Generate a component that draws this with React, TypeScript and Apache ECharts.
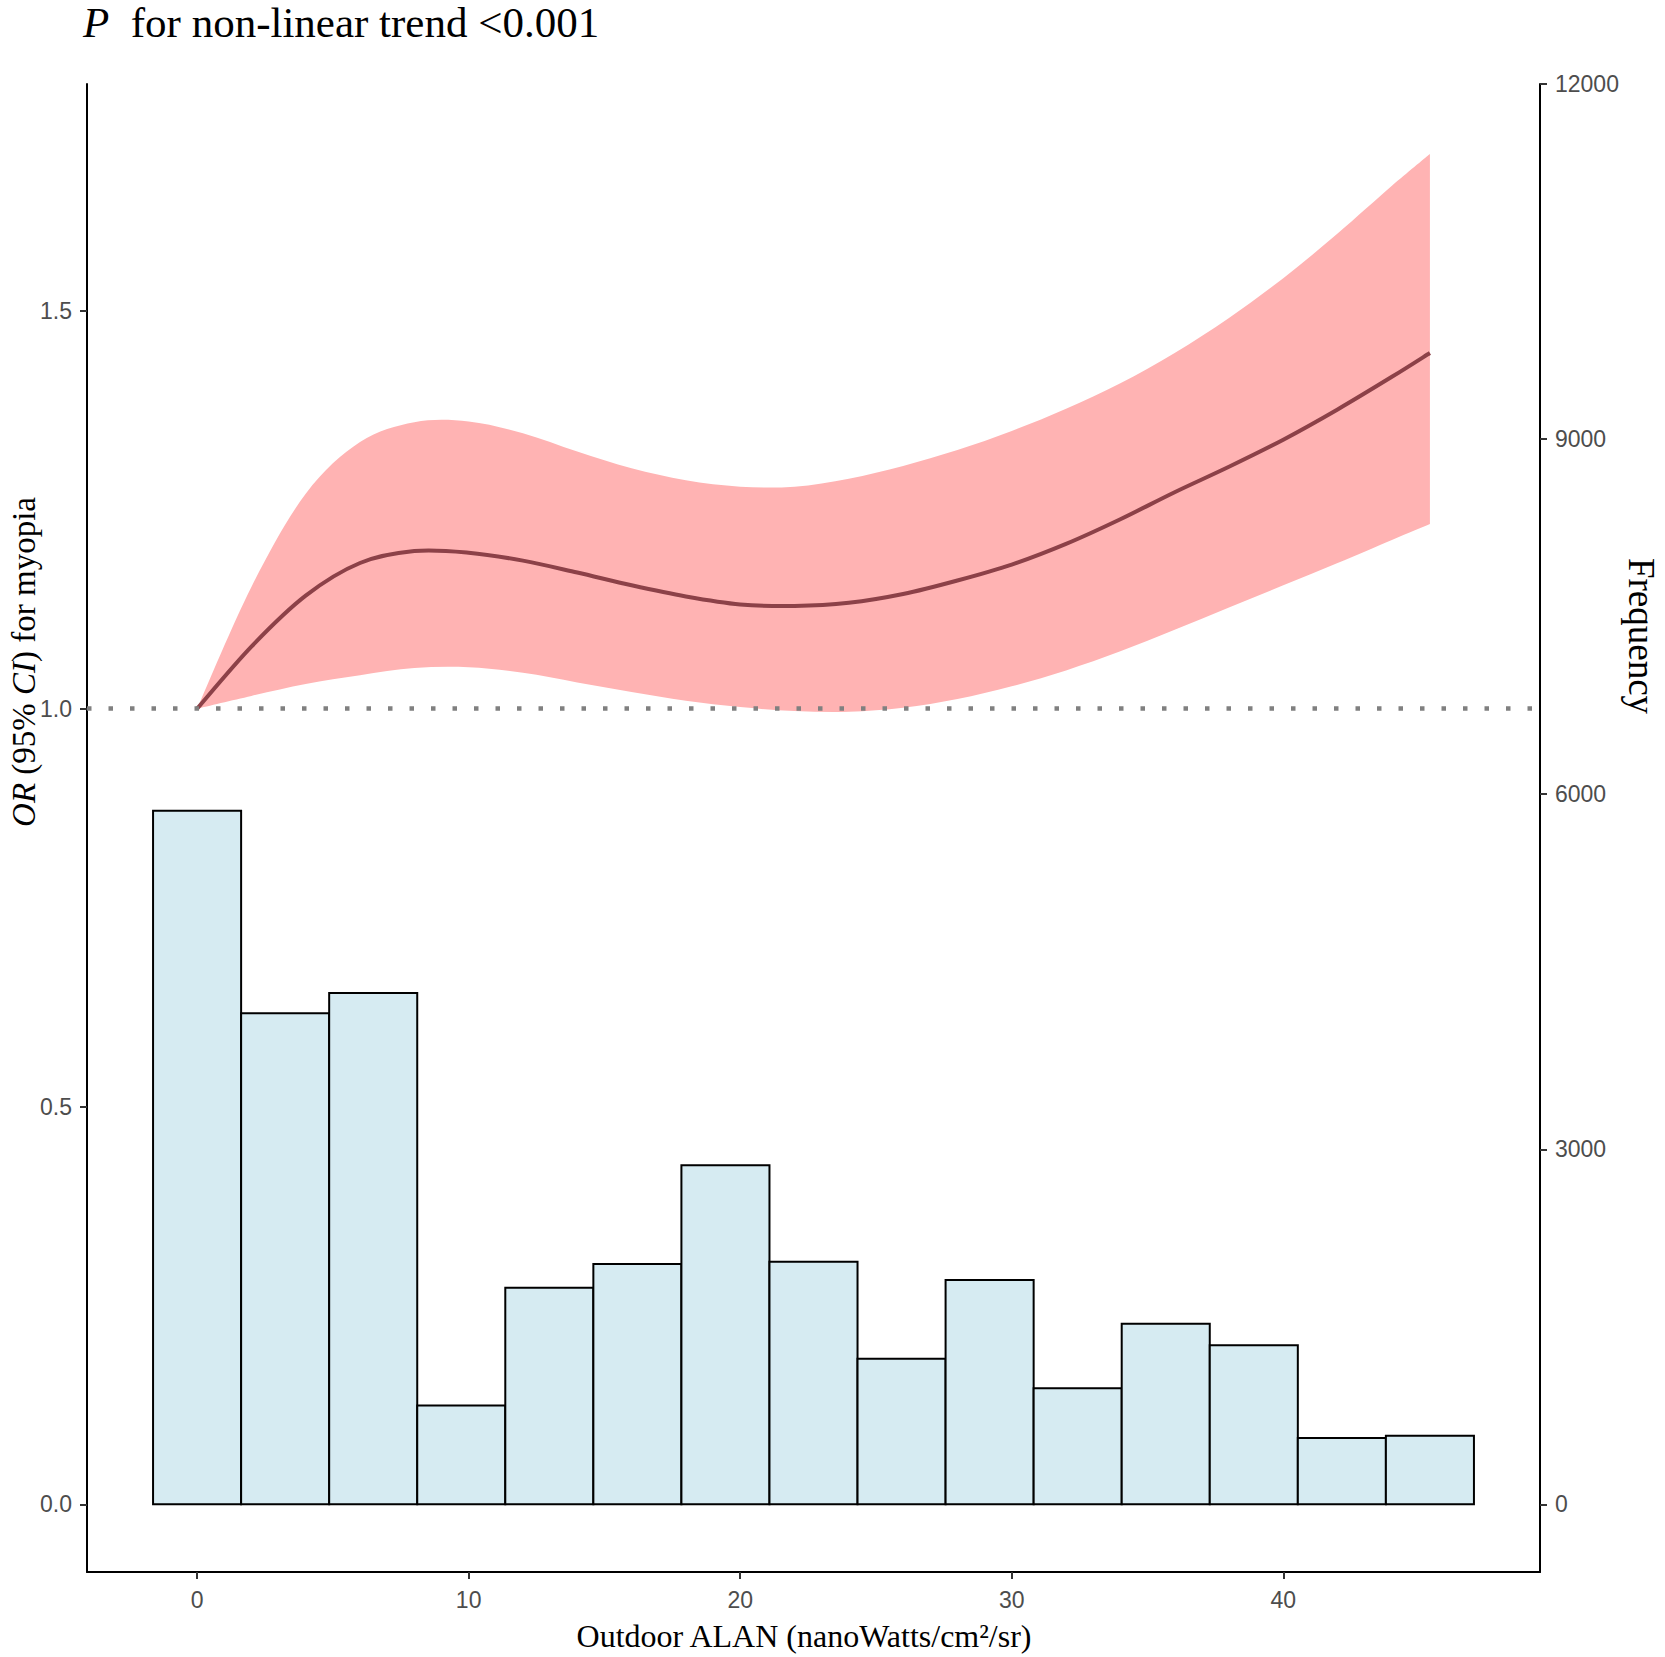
import React, { useEffect, useRef } from "react";
import * as echarts from "echarts";

// Spline fit (OR) and 95% CI
const XS = [0, 2, 4, 6, 8, 10, 12, 14, 16, 18, 20, 22, 24, 26, 28, 30, 32, 34, 36, 38, 40, 42, 44, 45.4];
const OR_FIT = [1.0, 1.078, 1.142, 1.183, 1.198, 1.196, 1.186, 1.171, 1.155, 1.141, 1.131, 1.129, 1.133, 1.144, 1.161, 1.181, 1.207, 1.238, 1.272, 1.304, 1.338, 1.376, 1.417, 1.447];
const OR_UPPER = [1.0, 1.153, 1.27, 1.335, 1.36, 1.361, 1.346, 1.323, 1.302, 1.287, 1.279, 1.279, 1.289, 1.305, 1.325, 1.349, 1.377, 1.409, 1.447, 1.491, 1.541, 1.597, 1.657, 1.697];
const OR_LOWER = [1.0, 1.016, 1.031, 1.042, 1.051, 1.052, 1.045, 1.033, 1.021, 1.01, 1.002, 0.997, 0.996, 1.001, 1.012, 1.028, 1.048, 1.072, 1.099, 1.127, 1.155, 1.183, 1.212, 1.232];

// Histogram of exposure (15 bins over 0 .. 45.4)
const BIN_MIN = 0;
const BIN_MAX = 45.4;
const BINS = 15;
const FREQ = [5860, 4150, 4320, 835, 1830, 2030, 2865, 2050, 1230, 1895, 980, 1525, 1345, 560, 580];

// Tick labels
const X_TICKS = [0, 10, 20, 30, 40];
const Y_TICKS = [0, 0.5, 1.0, 1.5];
const FREQ_TICKS = [0, 3000, 6000, 9000, 12000];
const REF_OR = 1.0;

const BW = (BIN_MAX - BIN_MIN) / (BINS - 1);
const X_MIN = -4.054;
const X_MAX = 49.454;
const Y_MIN = -0.085;
const Y_MAX = 1.785;
const K = 12000 / Y_MAX;

const SERIF = "'Liberation Serif', 'Times New Roman', serif";
const SANS = "'Liberation Sans', Arial, sans-serif";

// Catmull-Rom through pixel points, as cubic bezier segments (no leading M)
function curveSegments(p: number[][]): string {
  let d = "";
  const n = p.length;
  for (let i = 0; i < n - 1; i++) {
    const p0 = p[Math.max(0, i - 1)];
    const p1 = p[i];
    const p2 = p[i + 1];
    const p3 = p[Math.min(n - 1, i + 2)];
    const c1x = p1[0] + (p2[0] - p0[0]) / 6;
    const c1y = p1[1] + (p2[1] - p0[1]) / 6;
    const c2x = p2[0] - (p3[0] - p1[0]) / 6;
    const c2y = p2[1] - (p3[1] - p1[1]) / 6;
    d += ` C ${c1x} ${c1y} ${c2x} ${c2y} ${p2[0]} ${p2[1]}`;
  }
  return d;
}

export default function App() {
  const ref = useRef<HTMLDivElement>(null);
  useEffect(() => {
    const chart = echarts.init(ref.current!, null, { renderer: "svg" });
    const tickLabel = { color: "#4D4D4D", fontFamily: SANS, fontSize: 23 };
    const axisLine = { show: true, onZero: false, lineStyle: { color: "#000", width: 2 } };
    const axisTick = (vals: number[]) => ({ show: true, length: 7, lineStyle: { color: "#333", width: 2 }, customValues: vals });
    const option: any = {
      animation: false,
      backgroundColor: "#fff",
      grid: { left: 87, right: 125, top: 84, bottom: 85, containLabel: false },
      xAxis: {
        type: "value",
        min: X_MIN,
        max: X_MAX,
        axisLine,
        axisTick: axisTick(X_TICKS),
        axisLabel: { ...tickLabel, customValues: X_TICKS, margin: 16 },
        splitLine: { show: false },
      },
      yAxis: [
        {
          type: "value",
          position: "left",
          min: Y_MIN,
          max: Y_MAX,
          axisLine,
          axisTick: axisTick(Y_TICKS),
          axisLabel: { ...tickLabel, customValues: Y_TICKS, margin: 15, formatter: (v: number) => v.toFixed(1) },
          splitLine: { show: false },
        },
        {
          type: "value",
          position: "right",
          min: Y_MIN * K,
          max: Y_MAX * K,
          axisLine,
          axisTick: axisTick(FREQ_TICKS),
          axisLabel: { ...tickLabel, customValues: FREQ_TICKS, margin: 15, formatter: (v: number) => String(Math.round(v)) },
          splitLine: { show: false },
        },
      ],
      series: [
        {
          type: "custom",
          yAxisIndex: 1,
          z: 1,
          encode: { x: 0, y: 1 },
          data: FREQ.map((f, i) => [BIN_MIN + i * BW, f]),
          renderItem: (params: any, api: any) => {
            const c = api.value(0);
            const f = api.value(1);
            const p0 = api.coord([c - BW / 2, f]);
            const p1 = api.coord([c + BW / 2, 0]);
            return {
              type: "rect",
              shape: { x: p0[0], y: p0[1], width: p1[0] - p0[0], height: p1[1] - p0[1] },
              style: { fill: "#D6EBF2", stroke: "#000", lineWidth: 2 },
            };
          },
        },
        {
          type: "custom",
          yAxisIndex: 0,
          z: 2,
          encode: { x: 0, y: 1 },
          data: [[XS[0], OR_FIT[0]]],
          renderItem: (params: any, api: any) => {
            const up = XS.map((x, i) => api.coord([x, OR_UPPER[i]]));
            const lo = XS.map((x, i) => api.coord([x, OR_LOWER[i]])).reverse();
            const d =
              `M ${up[0][0]} ${up[0][1]}` +
              curveSegments(up) +
              ` L ${lo[0][0]} ${lo[0][1]}` +
              curveSegments(lo) +
              " Z";
            return {
              type: "path",
              shape: { pathData: d },
              style: { fill: "#FFB3B3", stroke: null },
            };
          },
        },
        {
          type: "custom",
          yAxisIndex: 0,
          z: 3,
          encode: { x: 0, y: 1 },
          data: [[XS[0], OR_FIT[0]]],
          renderItem: (params: any, api: any) => {
            const pts = XS.map((x, i) => api.coord([x, OR_FIT[i]]));
            return {
              type: "path",
              shape: { pathData: `M ${pts[0][0]} ${pts[0][1]}` + curveSegments(pts) },
              style: { fill: null, stroke: "#8C4148", lineWidth: 4 },
            };
          },
        },
        {
          type: "line",
          yAxisIndex: 0,
          z: 4,
          symbol: "none",
          lineStyle: { width: 0, opacity: 0 },
          data: [],
          markLine: {
            silent: true,
            symbol: ["none", "none"],
            label: { show: false },
            lineStyle: { type: [4.5, 17], color: "#808080", width: 4.5, cap: "butt" },
            data: [{ yAxis: REF_OR }],
          },
        },
      ],
      graphic: [
        {
          type: "text",
          x: 83,
          y: 22,
          style: {
            text: "{i|P}  for non-linear trend <0.001",
            fontFamily: SERIF,
            fontSize: 43,
            fill: "#000",
            verticalAlign: "middle",
            rich: { i: { fontStyle: "italic", fontFamily: SERIF, fontSize: 43, fill: "#000" } },
          },
        },
        {
          type: "text",
          x: 24,
          y: 662,
          rotation: Math.PI / 2,
          style: {
            text: "{i|OR} (95% {i|CI}) for myopia",
            fontFamily: SERIF,
            fontSize: 33,
            fill: "#000",
            align: "center",
            verticalAlign: "middle",
            rich: { i: { fontStyle: "italic", fontFamily: SERIF, fontSize: 33, fill: "#000" } },
          },
        },
        {
          type: "text",
          x: 1641,
          y: 636,
          rotation: -Math.PI / 2,
          style: {
            text: "Frequency",
            fontFamily: SERIF,
            fontSize: 37,
            fill: "#000",
            align: "center",
            verticalAlign: "middle",
          },
        },
        {
          type: "text",
          x: 804,
          y: 1636,
          style: {
            text: "Outdoor ALAN (nanoWatts/cm²/sr)",
            fontFamily: SERIF,
            fontSize: 32,
            fill: "#000",
            align: "center",
            verticalAlign: "middle",
          },
        },
      ],
    };
    chart.setOption(option);
    return () => chart.dispose();
  }, []);
  return (
    <div
      ref={ref}
      style={{ position: "absolute", left: 0, top: 0, width: 1665, height: 1657, background: "#fff" }}
    />
  );
}
